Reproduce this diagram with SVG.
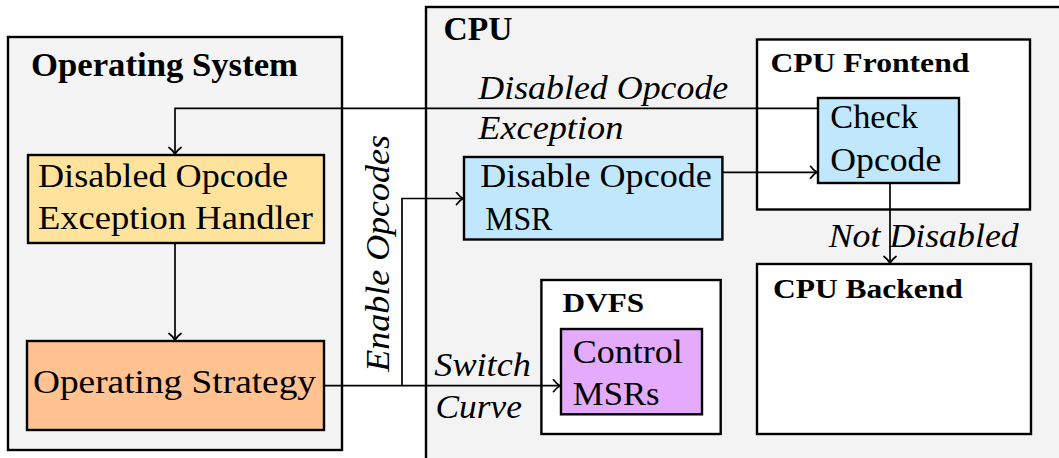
<svg xmlns="http://www.w3.org/2000/svg" width="1059" height="458" viewBox="0 0 1059 458">
<style>
.t{font-family:"Liberation Serif","Times New Roman",serif;font-size:33px;fill:#000}
.b{font-weight:bold}
.i{font-style:italic}
.s{font-size:27px}
.box{stroke:#000;stroke-width:2.4}
.c{fill:none;stroke:#000;stroke-width:1.7}
</style>
<defs>
<marker id="ar" markerUnits="userSpaceOnUse" markerWidth="14" markerHeight="14" viewBox="-10 -7 12 14" refX="0" refY="0" orient="auto">
<path d="M-6.5,-6 Q-3,-1.5 0,0 Q-3,1.5 -6.5,6" fill="none" stroke="#000" stroke-width="1.7" stroke-linecap="round"/>
</marker>
</defs>
<rect x="0" y="0" width="1059" height="458" fill="#fff"/>
<g id="os">
<rect class="box" x="8" y="37" width="334" height="413" fill="#f4f4f4"/>
<text class="t b" x="31" y="76" textLength="267" lengthAdjust="spacingAndGlyphs">Operating System</text>
</g>
<g id="cpu">
<rect class="box" x="426" y="7" width="700" height="520" fill="#f3f3f3"/>
<text class="t b" x="443.6" y="40" textLength="69" lengthAdjust="spacingAndGlyphs">CPU</text>
</g>
<g id="handler">
<rect class="box" x="28" y="155" width="296" height="88" fill="#ffe39c" stroke-width="2"/>
<text class="t" x="38" y="187" textLength="250" lengthAdjust="spacingAndGlyphs">Disabled Opcode</text>
<text class="t" x="38" y="229" textLength="275" lengthAdjust="spacingAndGlyphs">Exception Handler</text>
</g>
<g id="strategy">
<rect class="box" x="27" y="341" width="297" height="89" fill="#ffc290" stroke-width="2"/>
<text class="t" x="33" y="393" textLength="283" lengthAdjust="spacingAndGlyphs">Operating Strategy</text>
</g>
<g id="frontend">
<rect class="box" x="757" y="39.5" width="273" height="170" fill="#fff"/>
<text class="t b s" x="770.4" y="71.7" textLength="199" lengthAdjust="spacingAndGlyphs">CPU Frontend</text>
</g>
<g id="check">
<rect class="box" x="818" y="98" width="141" height="85" fill="#c1e7fc"/>
<text class="t" x="830.3" y="128.3" textLength="87.6" lengthAdjust="spacingAndGlyphs">Check</text>
<text class="t" x="830.3" y="170.7" textLength="111" lengthAdjust="spacingAndGlyphs">Opcode</text>
</g>
<g id="msr">
<rect class="box" x="464" y="157" width="258.4" height="82.5" fill="#c1e7fc"/>
<text class="t" x="480.3" y="186.7" textLength="231.5" lengthAdjust="spacingAndGlyphs">Disable Opcode</text>
<text class="t" x="485.2" y="230" textLength="67" lengthAdjust="spacingAndGlyphs">MSR</text>
</g>
<g id="dvfs">
<rect class="box" x="541.4" y="280" width="179.3" height="154" fill="#fff"/>
<text class="t b s" x="562.6" y="311.7" textLength="81.5" lengthAdjust="spacingAndGlyphs">DVFS</text>
</g>
<g id="control">
<rect class="box" x="561" y="329" width="141" height="85.3" fill="#e4aafb"/>
<text class="t" x="572.8" y="362.7" textLength="110" lengthAdjust="spacingAndGlyphs">Control</text>
<text class="t" x="572.8" y="405" textLength="86.8" lengthAdjust="spacingAndGlyphs">MSRs</text>
</g>
<g id="backend">
<rect class="box" x="757" y="264" width="274" height="170" fill="#fff"/>
<text class="t b s" x="772.9" y="298.3" textLength="190" lengthAdjust="spacingAndGlyphs">CPU Backend</text>
</g>
<g id="connectors">
<path class="c" d="M818,108.3 H175 V154" marker-end="url(#ar)"/>
<path class="c" d="M175,243 V340" marker-end="url(#ar)"/>
<path class="c" d="M324,385.7 H560" marker-end="url(#ar)"/>
<path class="c" d="M402,385.7 V198.5 H463" marker-end="url(#ar)"/>
<path class="c" d="M722.4,172.3 H817" marker-end="url(#ar)"/>
<path class="c" d="M890,183 V263" marker-end="url(#ar)"/>
</g>
<g id="labels">
<text class="t i" x="478.3" y="99" textLength="250" lengthAdjust="spacingAndGlyphs">Disabled Opcode</text>
<text class="t i" x="478.3" y="139" textLength="145" lengthAdjust="spacingAndGlyphs">Exception</text>
<text class="t i" x="828.7" y="247.3" textLength="190" lengthAdjust="spacingAndGlyphs">Not Disabled</text>
<text class="t i" x="434.3" y="375.7" textLength="96.5" lengthAdjust="spacingAndGlyphs">Switch</text>
<text class="t i" x="435.5" y="418.3" textLength="86.4" lengthAdjust="spacingAndGlyphs">Curve</text>
<text class="t i" transform="translate(389,371.7) rotate(-90)" textLength="236.7" lengthAdjust="spacingAndGlyphs">Enable Opcodes</text>
</g>
</svg>
